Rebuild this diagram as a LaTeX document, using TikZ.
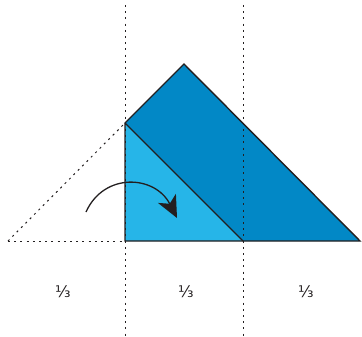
\documentclass[tikz,border=0pt]{standalone}
\usepackage{fontspec}
\setmainfont{DejaVu Sans}
\usetikzlibrary{arrows.meta}
\definecolor{darkblue}{RGB}{2,136,198}
\definecolor{lightblue}{RGB}{38,181,232}
\definecolor{ink}{RGB}{35,31,32}
\tikzset{
  fold/.style={ink,line width=1.4pt,line join=miter},
  dotline/.style={ink,line width=1pt,dash pattern=on 2pt off 4.2pt},
  third/.style={font=\fontsize{16}{18}\selectfont,text=ink,inner sep=0pt}
}
\begin{document}
\begin{tikzpicture}[x=1pt,y=-1pt]
\useasboundingbox (0,0) rectangle (362,337);
\coordinate (A) at (125,123);
\coordinate (T) at (184,64);
\coordinate (R) at (360,241);
\coordinate (M) at (243,241);
\coordinate (B) at (125,241);
\coordinate (L) at (8,241);
% filled regions
\fill[darkblue] (A) -- (T) -- (R) -- (M) -- cycle;
\fill[lightblue] (A) -- (B) -- (M) -- cycle;
% dotted guides
\draw[dotline] (125,5) -- (125,337);
\draw[dotline] (243,5) -- (243,337);
\draw[dotline] (L) -- (A);
\draw[dotline] (L) -- (B);
% outlines
\draw[fold] (A) -- (T) -- (R) -- (B) -- cycle;
\draw[fold] (A) -- (M);
% arrow
\coordinate (s) at (86,212);
\coordinate (e) at (177,218);
\draw[ink,line width=1.3pt,-{Stealth[length=22pt,width=20pt,inset=6pt]}] (s) .. controls (104,172) and (155,175) .. (e);
% labels
\node[third] (t1) at (63,292) {⅓};
\node[third] (t2) at (186,292) {⅓};
\node[third] (t3) at (306,292) {⅓};
\end{tikzpicture}
\end{document}
